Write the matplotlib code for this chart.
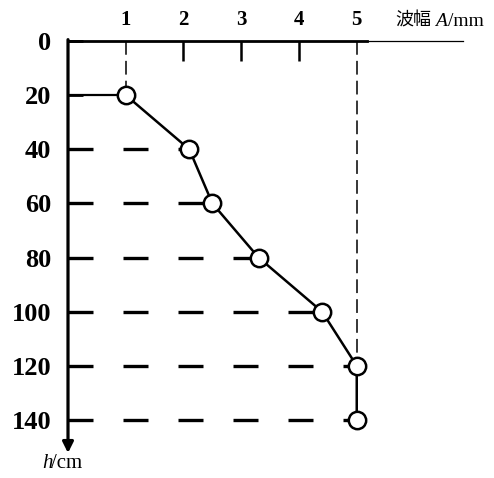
import matplotlib.pyplot as plt

depth = [20, 40, 60, 80, 100, 120, 140]
amplitude = [1.0, 2.1, 2.5, 3.3, 4.4, 5.0, 5.0]
x_ticks = [1, 2, 3, 4, 5]
x_tick_marks = [2, 3, 4]
y_ticks = [0, 20, 40, 60, 80, 100, 120, 140]

W, H = 494, 478
fig = plt.figure(figsize=(W / 100, H / 100), dpi=100)
ax = fig.add_axes([68 / W, 1 - 453 / H, 395 / W, 412 / H])
ax.set_xlim(0, 6.84)
ax.set_ylim(152.2, 0)
for s in ax.spines.values():
    s.set_visible(False)

serif = 'Liberation Serif'

# ticks
ax.xaxis.tick_top()
ax.set_xticks(x_ticks)
ax.set_xticklabels([str(v) for v in x_ticks], fontfamily=serif,
                   fontweight='bold', fontsize=15)
ax.set_yticks(y_ticks)
ax.set_yticklabels([str(v) for v in y_ticks], fontfamily=serif,
                   fontweight='bold', fontsize=19)
ax.tick_params(axis='x', length=0, pad=8)
ax.tick_params(axis='y', direction='in', length=11, width=2, pad=12)

# axes lines
ax.plot([0, 5.18], [0, 0], color='k', lw=2.0, clip_on=False, zorder=3)
ax.plot([5.18, 6.84], [0, 0], color='k', lw=0.9, clip_on=False, zorder=3)
ax.vlines(x_tick_marks, 0, 7.4, color='k', lw=1.8)
ax.annotate('', xy=(0, 152.2), xytext=(0, -0.5),
            arrowprops=dict(arrowstyle='-|>', lw=2.3, color='k',
                            mutation_scale=16, shrinkA=0, shrinkB=0),
            annotation_clip=False)

# guide lines
ax.plot([0, amplitude[0]], [depth[0], depth[0]], color='k', lw=1.6)
for a, d in zip(amplitude[1:], depth[1:]):
    ax.plot([0, a], [d, d], color='k', lw=2.4, dashes=(7.5, 9))
ax.plot([amplitude[0], amplitude[0]], [0, depth[0]], color='k', lw=1.1,
        dashes=(9, 4))
ax.plot([amplitude[-1], amplitude[-1]], [0, depth[-1]], color='k', lw=1.1,
        dashes=(9, 4))

# data
ax.plot(amplitude, depth, color='k', lw=1.8, marker='o', markersize=12.5,
        markerfacecolor='white', markeredgecolor='k', markeredgewidth=1.8,
        zorder=4)

# axis titles
def px(x, y):
    return x / W, 1 - y / H

fig.text(*px(395, 21), '波幅', fontfamily='Noto Sans CJK SC', fontsize=13,
         ha='left', va='center')
fig.text(*px(435, 21), 'A', fontfamily=serif, fontstyle='italic', fontsize=14,
         ha='left', va='center')
fig.text(*px(448, 21), '/mm', fontfamily=serif, fontsize=14,
         ha='left', va='center')
fig.text(*px(42, 463), 'h', fontfamily=serif, fontstyle='italic', fontsize=15,
         ha='left', va='center')
fig.text(*px(51, 463), '/cm', fontfamily=serif, fontsize=15,
         ha='left', va='center')

fig.savefig('out.png', dpi=100)
